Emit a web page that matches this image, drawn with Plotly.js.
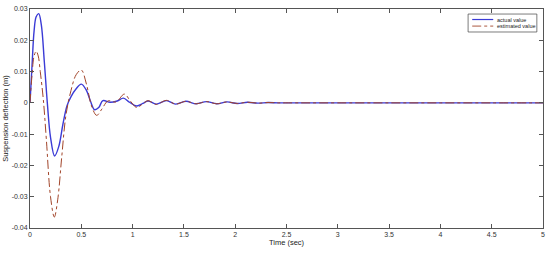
<!DOCTYPE html>
<html><head><meta charset="utf-8">
<script src="https://cdn.plot.ly/plotly-3.0.1.min.js"></script>
<style>html,body{margin:0;padding:0;background:#fff}#chart{width:550px;height:253px}</style>
</head><body><div id="chart"></div>
<script>
const actualT = [0, 0.02, 0.04, 0.06, 0.085, 0.11, 0.14, 0.17, 0.2, 0.24, 0.28, 0.32, 0.36, 0.4, 0.45, 0.5, 0.55, 0.59, 0.63, 0.67, 0.71, 0.78, 0.85, 0.91, 0.97, 1.04, 1.1, 1.15, 1.23, 1.33, 1.42, 1.52, 1.62, 1.72, 1.82, 1.92, 2.02, 2.12, 2.22, 2.32, 2.42, 2.52, 2.7, 3, 3.5, 4, 4.5, 5];
const actualY = [0, 0.012, 0.023, 0.0275, 0.0285, 0.025, 0.013, -0.0005, -0.011, -0.017, -0.014, -0.007, -0.001, 0.002, 0.0045, 0.006, 0.004, 0.0005, -0.0022, -0.0015, 0.0007, 0.0002, 0.0006, 0.0015, 0.0002, -0.001, -0.0002, 0.0006, -0.0004, 0.0007, -0.0004, 0.0005, -0.0003, 0.0004, -0.0003, 0.0003, -0.0002, 0.0002, -0.0001, 0.0001, 0, 0, 0, 0, 0, 0, 0, 0];
const estT = [0, 0.02, 0.04, 0.06, 0.08, 0.1, 0.13, 0.16, 0.2, 0.237, 0.27, 0.31, 0.35, 0.4, 0.45, 0.5, 0.55, 0.6, 0.65, 0.7, 0.76, 0.84, 0.92, 0.98, 1.04, 1.1, 1.15, 1.23, 1.33, 1.42, 1.52, 1.62, 1.72, 1.82, 1.92, 2.02, 2.12, 2.22, 2.32, 2.42, 2.52, 2.7, 3, 3.5, 4, 4.5, 5];
const estY = [0, 0.009, 0.015, 0.0165, 0.015, 0.010, 0.001, -0.012, -0.03, -0.0365, -0.031, -0.017, -0.004, 0.004, 0.009, 0.0105, 0.006, -0.001, -0.004, -0.002, 0.0006, 0.0003, 0.0028, 0.0005, -0.0015, -0.0003, 0.0007, -0.0005, 0.0008, -0.0004, 0.0005, -0.0003, 0.0004, -0.0003, 0.0003, -0.0002, 0.0002, -0.0001, 0.0001, 0, 0, 0, 0, 0, 0, 0, 0];
const seriesNames = ["actual value", "estimated value"];
const xTicks = [0, 0.5, 1, 1.5, 2, 2.5, 3, 3.5, 4, 4.5, 5];
const xTickText = ["0", "0.5", "1", "1.5", "2", "2.5", "3", "3.5", "4", "4.5", "5"];
const yTicks = [-0.04, -0.03, -0.02, -0.01, 0, 0.01, 0.02, 0.03];
const yTickText = ["-0.04", "-0.03", "-0.02", "-0.01", "0", "0.01", "0.02", "0.03"];

const colors = ['#3b3bd6', '#a2452a'];
const dashes = ['solid', 'dashdot'];
const FONT = 'Liberation Sans, Arial, sans-serif';

const traces = [
  {x: actualT, y: actualY, name: seriesNames[0], mode: 'lines',
   line: {color: colors[0], width: 1.4, shape: 'spline', smoothing: 1}},
  {x: estT, y: estY, name: seriesNames[1], mode: 'lines',
   line: {color: colors[1], width: 1, dash: dashes[1], shape: 'spline', smoothing: 1}}
];

// compact MATLAB-style legend box
const shapes = [{type: 'rect', xref: 'paper', yref: 'paper', x0: 0.854, x1: 0.988, y0: 0.895, y1: 0.977,
  line: {color: '#444', width: 0.7}, fillcolor: '#fff', layer: 'above'}];
const annotations = [];
const rowY = [0.952, 0.922];
seriesNames.forEach((n, i) => {
  shapes.push({type: 'line', xref: 'paper', yref: 'paper', x0: 0.862, x1: 0.903, y0: rowY[i], y1: rowY[i],
    line: {color: colors[i], width: i === 0 ? 1.2 : 0.9, dash: dashes[i]}, layer: 'above'});
  annotations.push({xref: 'paper', yref: 'paper', x: 0.907, y: rowY[i], xanchor: 'left', yanchor: 'middle',
    text: n, showarrow: false, font: {family: FONT, size: 5.5, color: '#222'}});
});

const axisCommon = {showline: true, linecolor: '#555', linewidth: 1, mirror: 'ticks', ticks: 'inside',
  ticklen: 4, tickcolor: '#555', showgrid: false, zeroline: false,
  tickfont: {family: FONT, size: 7, color: '#333'}};
const layout = {
  width: 550, height: 253,
  margin: {l: 30, r: 7, t: 9, b: 25},
  paper_bgcolor: '#fff', plot_bgcolor: '#fff',
  showlegend: false,
  shapes: shapes, annotations: annotations,
  xaxis: Object.assign({}, axisCommon, {range: [0, 5], tickvals: xTicks, ticktext: xTickText,
    title: {text: 'Time (sec)', font: {family: FONT, size: 7.5, color: '#222'}, standoff: 2}}),
  yaxis: Object.assign({}, axisCommon, {range: [-0.04, 0.03], tickvals: yTicks, ticktext: yTickText,
    title: {text: 'Suspension deflection (m)', font: {family: FONT, size: 7.5, color: '#222'}, standoff: 2}})
};
Plotly.newPlot('chart', traces, layout, {displayModeBar: false, staticPlot: true});
</script></body></html>
